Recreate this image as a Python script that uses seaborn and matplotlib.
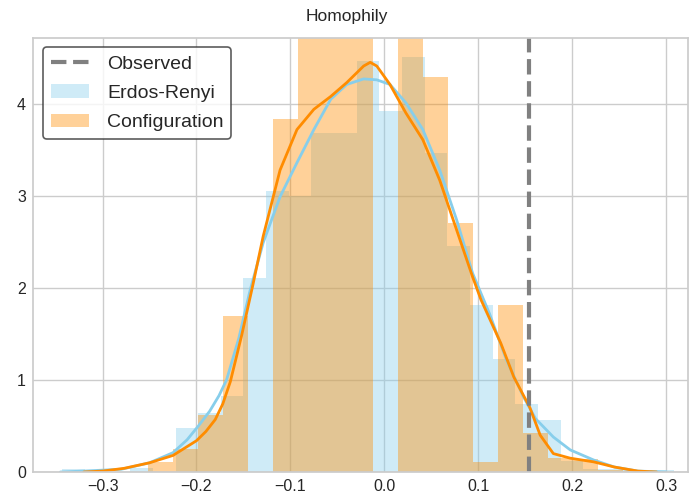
import numpy as np
import pandas as pd
import seaborn as sns
import matplotlib
matplotlib.use("Agg")
import matplotlib.pyplot as plt
from matplotlib.lines import Line2D
from matplotlib.patches import Patch

# ---- data ----
observed = 0.154

# Erdos-Renyi histogram (density per bin)
er_start = -0.3430
er_width = 0.02413
er_heights = [0.03, 0.0, 0.0, 0.04, 0.0, 0.48, 0.64, 0.83, 2.11, 3.05, 3.00,
              3.68, 3.68, 4.46, 3.92, 4.51, 3.46, 2.45, 1.81, 1.23, 0.74,
              0.56, 0.12, 0.03, 0.03, 0.0, 0.02]

# Configuration histogram (density per bin)
cf_start = -0.2517
cf_width = 0.02662
cf_heights = [0.11, 0.255, 0.62, 1.69, 0.0, 3.83, 5.2, 5.6, 5.4, 0.0, 5.2,
              4.29, 2.70, 0.11, 1.81, 0.42, 0.15, 0.145, 0.02, 0.01]

# KDE curves
er_kde_x = [-0.345, -0.32, -0.28, -0.25, -0.225, -0.210, -0.198, -0.186,
            -0.176, -0.168, -0.155, -0.143, -0.129, -0.111, -0.093, -0.075,
            -0.057, -0.040, -0.022, -0.008, 0.006, 0.023, 0.041, 0.059, 0.077,
            0.094, 0.112, 0.130, 0.148, 0.161, 0.180, 0.198, 0.223, 0.245,
            0.27, 0.30]
er_kde_y = [0.0, 0.01, 0.03, 0.10, 0.21, 0.35, 0.50, 0.66, 0.83, 1.00, 1.45,
            1.97, 2.49, 2.99, 3.36, 3.72, 4.05, 4.21, 4.27, 4.26, 4.21, 4.01,
            3.72, 3.28, 2.74, 2.16, 1.72, 1.22, 0.82, 0.58, 0.38, 0.24, 0.13,
            0.054, 0.01, 0.0]

cf_kde_x = [-0.32, -0.30, -0.277, -0.25, -0.225, -0.200, -0.190, -0.180,
            -0.172, -0.164, -0.152, -0.140, -0.129, -0.111, -0.093, -0.075,
            -0.057, -0.040, -0.022, -0.015, -0.008, 0.006, 0.023, 0.041, 0.059,
            0.077, 0.094, 0.103, 0.124, 0.138, 0.155, 0.166, 0.180, 0.198,
            0.223, 0.245, 0.27, 0.29]
cf_kde_y = [0.0, 0.01, 0.04, 0.10, 0.18, 0.34, 0.44, 0.57, 0.74, 0.98, 1.48,
            2.03, 2.56, 3.28, 3.72, 3.94, 4.08, 4.23, 4.41, 4.45, 4.41, 4.21,
            3.90, 3.61, 3.17, 2.63, 2.12, 1.87, 1.40, 1.03, 0.70, 0.40, 0.20,
            0.15, 0.11, 0.054, 0.01, 0.0]

labels = ["Observed", "Erdos-Renyi", "Configuration"]
title = "Homophily"

# ---- build tables ----
er_edges = [float(v) for v in er_start + er_width * np.arange(len(er_heights) + 1)]
cf_edges = [float(v) for v in cf_start + cf_width * np.arange(len(cf_heights) + 1)]
er_df = pd.DataFrame({"x": [(a + b) / 2 for a, b in zip(er_edges[:-1], er_edges[1:])],
                      "w": er_heights})
cf_df = pd.DataFrame({"x": [(a + b) / 2 for a, b in zip(cf_edges[:-1], cf_edges[1:])],
                      "w": cf_heights})

sns.set_theme(style="whitegrid", context="notebook")
plt.rcParams["font.family"] = ["Liberation Sans", "DejaVu Sans"]

fig = plt.figure(figsize=(6.94, 4.97), dpi=100)
ax = fig.add_axes([33 / 694, 25 / 497, 655 / 694, 434.5 / 497])

sns.histplot(data=er_df, x="x", weights="w", bins=er_edges, stat="count",
             color="skyblue", alpha=0.4, linewidth=0, ax=ax)
sns.histplot(data=cf_df, x="x", weights="w", bins=cf_edges, stat="count",
             color="darkorange", alpha=0.4, linewidth=0, ax=ax)
sns.lineplot(x=er_kde_x, y=er_kde_y, color="skyblue", lw=2, ax=ax)
sns.lineplot(x=cf_kde_x, y=cf_kde_y, color="darkorange", lw=2, ax=ax)
ax.axvline(observed, color="gray", ls="--", lw=3)

ax.set_xlim(-0.3741, 0.3234)
ax.set_ylim(0, 4.72)
ax.set_xlabel("")
ax.set_ylabel("")
ax.tick_params(axis="both", length=0, pad=5, labelsize=11.5, labelcolor="#262626")
fig.suptitle(title, x=0.5, y=1 - 17 / 497, va="center", fontsize=12.5)

handles = [Line2D([0], [0], color="gray", ls="--", lw=3),
           Patch(facecolor="skyblue", alpha=0.4, linewidth=0),
           Patch(facecolor="darkorange", alpha=0.4, linewidth=0)]
leg = ax.legend(handles, labels, loc="upper left", frameon=True,
                fancybox=True, fontsize=14, labelspacing=0.6,
                handletextpad=0.9)
leg.get_frame().set_edgecolor("#333333")
leg.get_frame().set_linewidth(1.2)
for t in leg.get_texts():
    t.set_color("#262626")

fig.savefig("out.png", dpi=100)
